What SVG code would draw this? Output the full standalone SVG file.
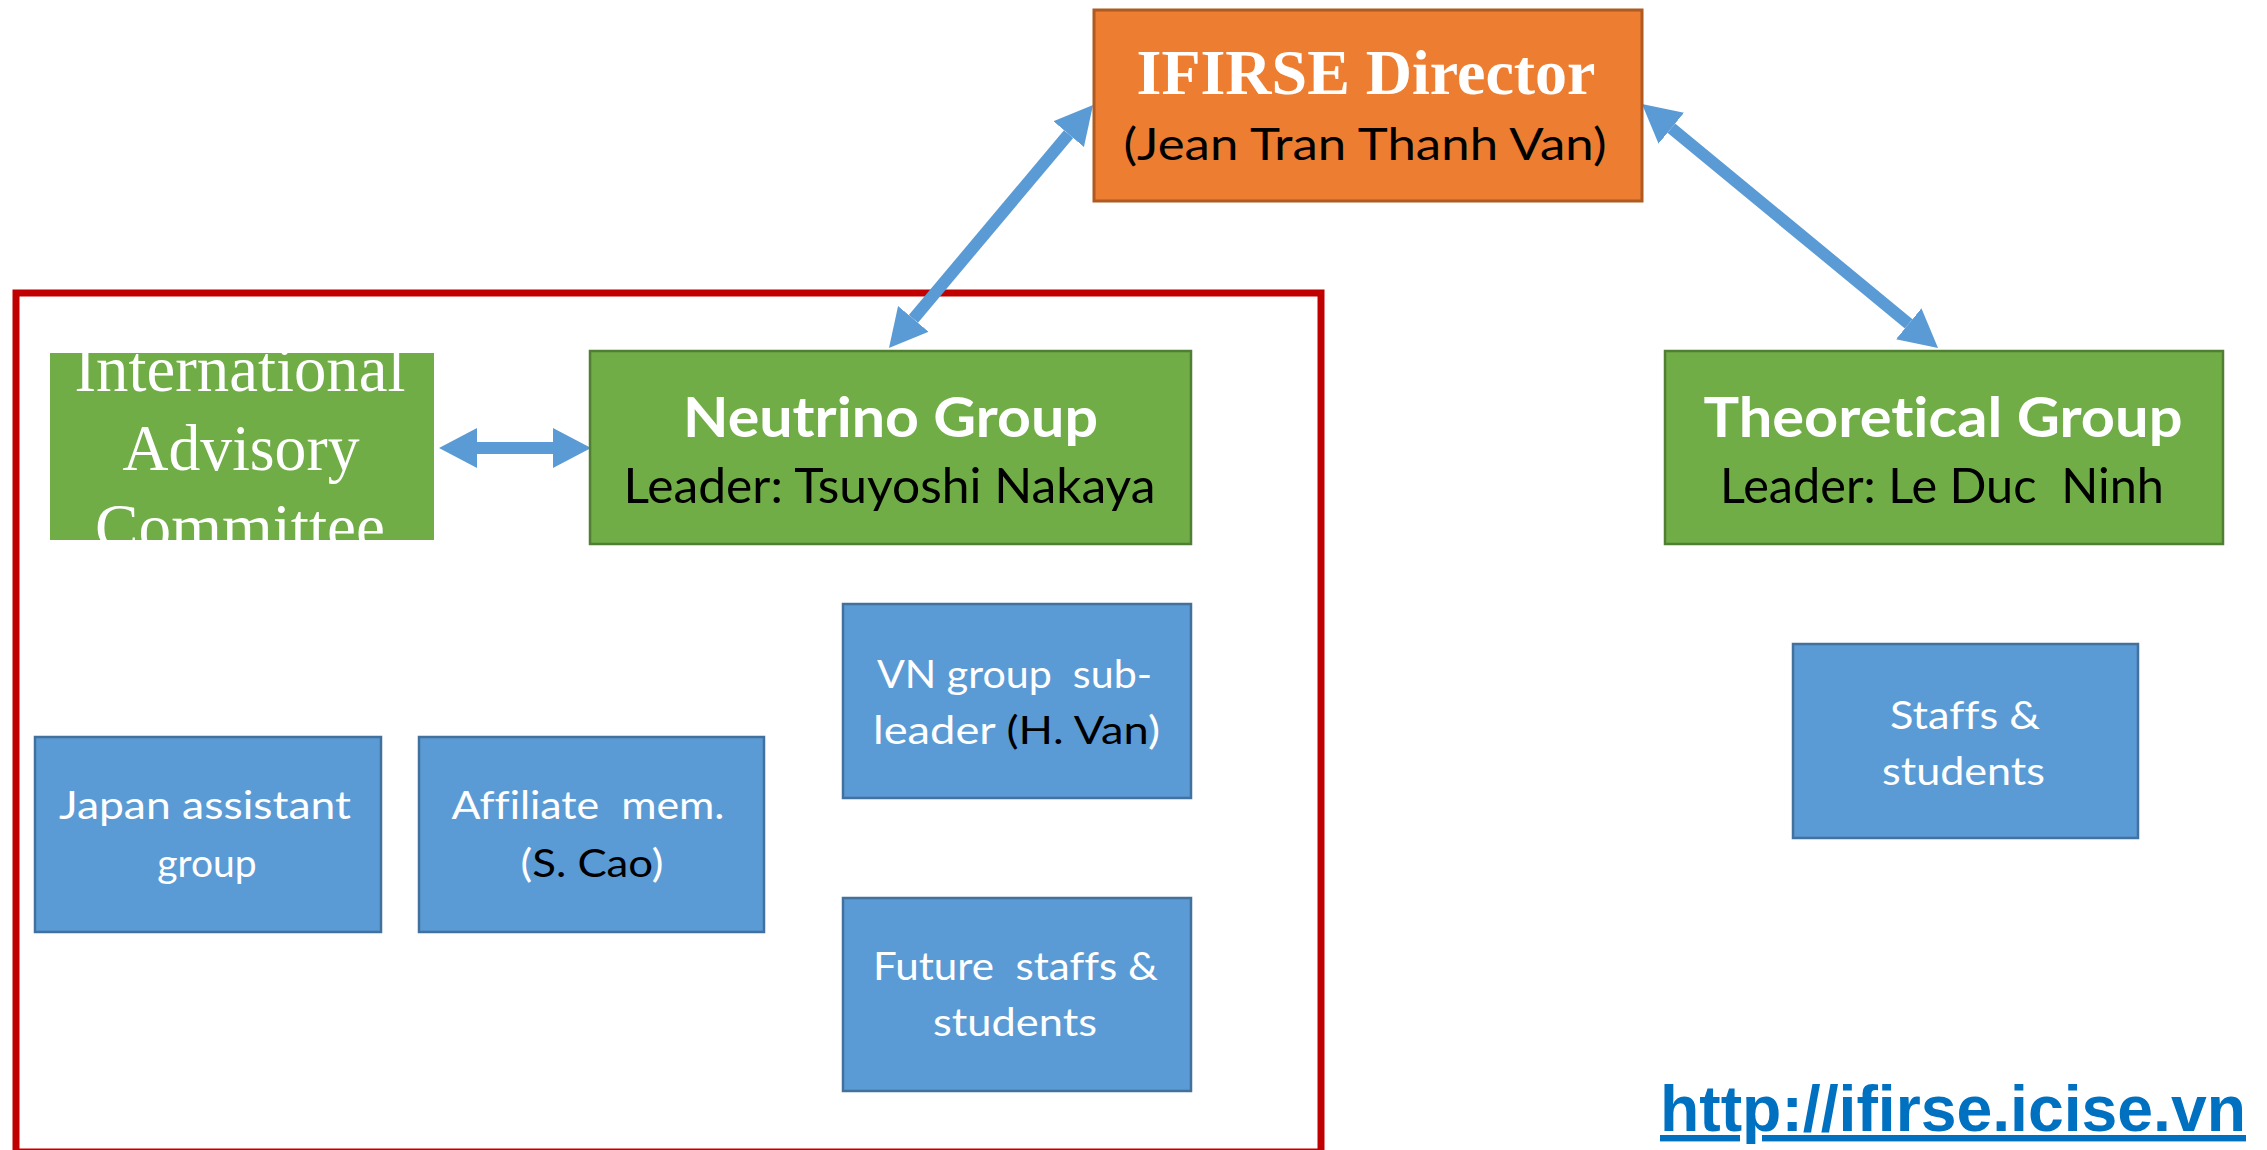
<svg xmlns="http://www.w3.org/2000/svg" width="2267" height="1150" viewBox="0 0 2267 1150" xml:space="preserve">
<style>
text { white-space: pre; font-variant-ligatures: none; }
.sans { font-family: Lato, "Open Sans", "DejaVu Sans", sans-serif; }
.serif { font-family: "Liberation Serif", "DejaVu Serif", serif; }
.green { fill: #70AD47; stroke: #507E32; stroke-width: 2.5; }
.blue { fill: #5B9BD5; stroke: #41719C; stroke-width: 2.5; }
.orange { fill: #ED7D31; stroke: #AE5A21; stroke-width: 3; }
.k { fill: #000000; }
.title { font-weight: bold; font-size: 56px; fill: #FFFFFF; }
.leader { font-size: 49px; fill: #000000; }
.small { font-size: 39px; fill: #FFFFFF; }
.conn { stroke: #5B9BD5; stroke-width: 12; fill: none; marker-start: url(#head); marker-end: url(#head); }
</style>
<defs>
  <marker id="head" viewBox="0 0 38 40" refX="0" refY="20" markerWidth="38" markerHeight="40" markerUnits="userSpaceOnUse" orient="auto-start-reverse">
    <path d="M0,0 L38,20 L0,40 Z" fill="#5B9BD5"/>
  </marker>
  <clipPath id="iacClip"><rect x="50" y="353" width="384" height="187"/></clipPath>
</defs>
<rect x="0" y="0" width="2267" height="1150" fill="#FFFFFF"/>

<g id="neutrino-frame">
  <rect x="16" y="293" width="1305" height="859" fill="none" stroke="#C00000" stroke-width="7"/>
</g>

<g id="connectors">
  <line class="conn" x1="1068.6" y1="134.1" x2="913.4" y2="318.9"/>
  <line class="conn" x1="1671.3" y1="128.2" x2="1908.7" y2="323.8"/>
  <line class="conn" x1="477" y1="448" x2="553" y2="448"/>
</g>

<g id="director">
  <rect class="orange" x="1094" y="10" width="548" height="191"/>
  <text class="serif" x="1366" y="94" text-anchor="middle" font-size="64" font-weight="bold" fill="#FFFFFF" textLength="459" lengthAdjust="spacingAndGlyphs">IFIRSE Director</text>
  <text class="sans" x="1365" y="160" text-anchor="middle" font-size="45" fill="#000000" textLength="483" lengthAdjust="spacingAndGlyphs">(Jean Tran Thanh Van)</text>
</g>

<g id="iac">
  <rect x="50" y="353" width="384" height="187" fill="#70AD47"/>
  <g clip-path="url(#iacClip)" class="serif" font-size="66" fill="#FFFFFF" text-anchor="middle">
    <text x="240" y="391" textLength="331" lengthAdjust="spacingAndGlyphs">International</text>
    <text x="241" y="470" textLength="237" lengthAdjust="spacingAndGlyphs">Advisory</text>
    <text x="240" y="549" textLength="290" lengthAdjust="spacingAndGlyphs">Committee</text>
  </g>
</g>

<g id="neutrino-group">
  <rect class="green" x="590" y="351" width="601" height="193"/>
  <text class="sans title" x="890.5" y="437" text-anchor="middle" textLength="415" lengthAdjust="spacingAndGlyphs">Neutrino Group</text>
  <text class="sans leader" x="889.5" y="503" text-anchor="middle" textLength="532" lengthAdjust="spacingAndGlyphs">Leader: Tsuyoshi Nakaya</text>
</g>

<g id="theoretical-group">
  <rect class="green" x="1665" y="351" width="558" height="193"/>
  <text class="sans title" x="1943" y="437" text-anchor="middle" textLength="479" lengthAdjust="spacingAndGlyphs">Theoretical Group</text>
  <text class="sans leader" x="1942" y="503" text-anchor="middle" textLength="444" lengthAdjust="spacingAndGlyphs">Leader: Le Duc  Ninh</text>
</g>

<g id="vn-subleader">
  <rect class="blue" x="843" y="604" width="348" height="194"/>
  <text class="sans small" x="1014.5" y="688" text-anchor="middle" textLength="275" lengthAdjust="spacingAndGlyphs">VN group  sub-</text>
  <text class="sans small" x="1016.5" y="744" text-anchor="middle" textLength="287" lengthAdjust="spacingAndGlyphs">leader <tspan class="k">(H. Van</tspan>)</text>
</g>

<g id="japan-assistant">
  <rect class="blue" x="35" y="737" width="346" height="195"/>
  <text class="sans small" x="205" y="819" text-anchor="middle" textLength="292" lengthAdjust="spacingAndGlyphs">Japan assistant</text>
  <text class="sans small" x="207" y="877" text-anchor="middle">group</text>
</g>

<g id="affiliate">
  <rect class="blue" x="419" y="737" width="345" height="195"/>
  <text class="sans small" x="588" y="819" text-anchor="middle" textLength="273" lengthAdjust="spacingAndGlyphs">Affiliate  mem.</text>
  <text class="sans small" x="592" y="877" text-anchor="middle" textLength="143" lengthAdjust="spacingAndGlyphs">(<tspan class="k">S. Cao</tspan>)</text>
</g>

<g id="future-staffs">
  <rect class="blue" x="843" y="898" width="348" height="193"/>
  <text class="sans small" x="1015.5" y="980" text-anchor="middle" textLength="285" lengthAdjust="spacingAndGlyphs">Future  staffs &amp;</text>
  <text class="sans small" x="1015" y="1036" text-anchor="middle" textLength="164" lengthAdjust="spacingAndGlyphs">students</text>
</g>

<g id="theory-staffs">
  <rect class="blue" x="1793" y="644" width="345" height="194"/>
  <text class="sans small" x="1965" y="729" text-anchor="middle" textLength="150" lengthAdjust="spacingAndGlyphs">Staffs &amp;</text>
  <text class="sans small" x="1963.5" y="785" text-anchor="middle" textLength="163" lengthAdjust="spacingAndGlyphs">students</text>
</g>

<g id="url">
  <text x="1953" y="1131" text-anchor="middle" font-family="'Liberation Sans', Arial, sans-serif" font-weight="bold" font-size="64" fill="#0070C0" text-decoration="underline" textLength="586" lengthAdjust="spacingAndGlyphs">http://ifirse.icise.vn</text>
</g>
</svg>
